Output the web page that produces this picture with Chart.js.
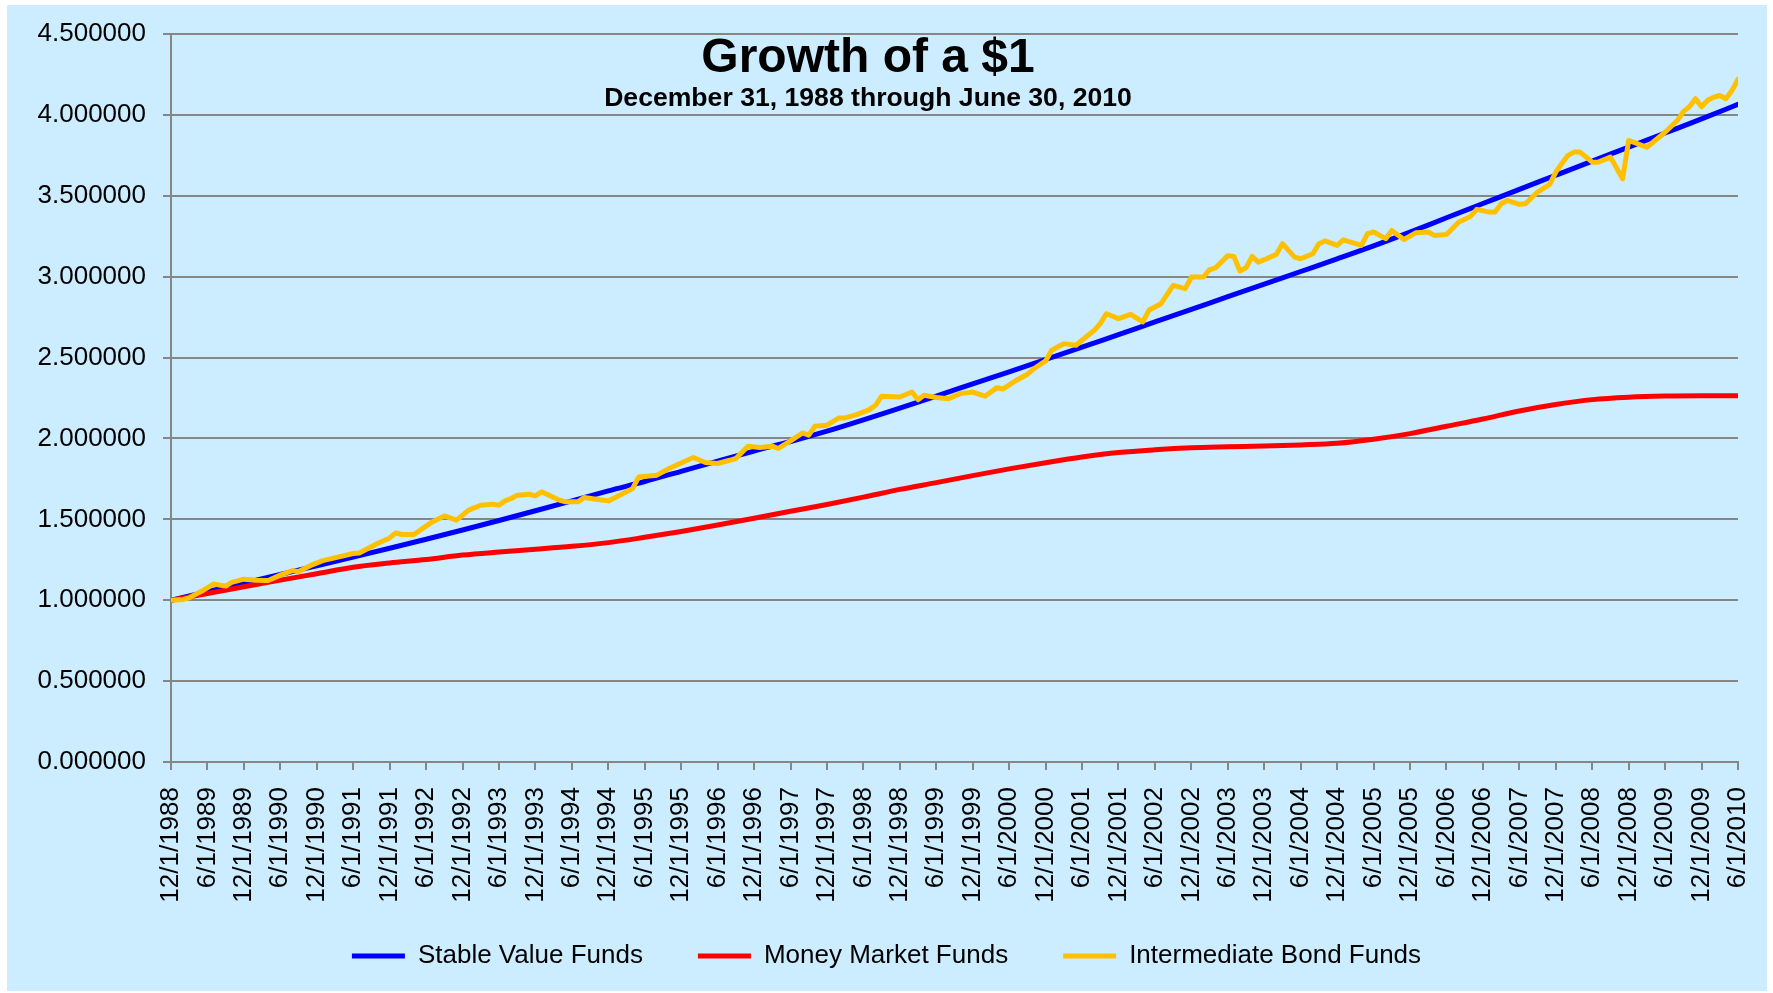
<!DOCTYPE html>
<html>
<head>
<meta charset="utf-8">
<title>Growth of a $1</title>
<script src="https://cdn.jsdelivr.net/npm/chart.js@4.4.1/dist/chart.umd.min.js"></script>
<style>
    html, body { margin: 0; padding: 0; background: #ffffff; }
    #wrap { width: 1773px; height: 993px; }
</style>
</head>
<body>
<div id="wrap"><canvas id="growthChart" width="1773" height="993"></canvas></div>
<script>
// Etiquetas do eixo X (a cada 6 meses)
const tickLabels = [
    '12/1/1988', '6/1/1989', '12/1/1989', '6/1/1990', '12/1/1990', '6/1/1991', '12/1/1991',
    '6/1/1992', '12/1/1992', '6/1/1993', '12/1/1993', '6/1/1994', '12/1/1994', '6/1/1995',
    '12/1/1995', '6/1/1996', '12/1/1996', '6/1/1997', '12/1/1997', '6/1/1998', '12/1/1998',
    '6/1/1999', '12/1/1999', '6/1/2000', '12/1/2000', '6/1/2001', '12/1/2001', '6/1/2002',
    '12/1/2002', '6/1/2003', '12/1/2003', '6/1/2004', '12/1/2004', '6/1/2005', '12/1/2005',
    '6/1/2006', '12/1/2006', '6/1/2007', '12/1/2007', '6/1/2008', '12/1/2008', '6/1/2009',
    '12/1/2009', '6/1/2010'
];

// Valores semestrais (um por etiqueta)
const stableValues = [
    1.000, 1.053, 1.106, 1.159, 1.213, 1.267, 1.321, 1.377, 1.434, 1.493, 1.553,
    1.614, 1.676, 1.734, 1.797, 1.860, 1.922, 1.981, 2.045, 2.115, 2.188, 2.262,
    2.337, 2.412, 2.488, 2.564, 2.642, 2.720, 2.798, 2.876, 2.954, 3.032, 3.110,
    3.190, 3.275, 3.364, 3.452, 3.540, 3.627, 3.714, 3.801, 3.888, 3.975, 4.065
];

const moneyValues = [
    1.000, 1.042, 1.083, 1.124, 1.164, 1.204, 1.230, 1.252, 1.279, 1.298, 1.315,
    1.333, 1.356, 1.389, 1.425, 1.465, 1.507, 1.550, 1.592, 1.637, 1.685, 1.727,
    1.770, 1.812, 1.850, 1.885, 1.913, 1.930, 1.942, 1.948, 1.953, 1.960, 1.970,
    1.995, 2.030, 2.075, 2.120, 2.170, 2.210, 2.240, 2.255, 2.262, 2.264, 2.264
];

// Fundos de renda fixa: mes (desde 12/1988) e valor
const bondMonths = [
    0, 2, 3, 5, 7, 9, 10, 12, 14, 16, 18, 20, 21, 23, 25, 30, 31, 34, 36, 37, 38, 40,
    43, 45, 47, 49, 51, 53, 54, 55, 56, 57, 59, 60, 61, 64, 65, 67, 68, 70, 72, 75,
    76, 77, 80, 82, 86, 88, 90, 92, 93, 95, 97, 99, 100, 102, 104, 105, 106, 108, 110,
    111, 113, 115, 116, 117, 120, 122, 123, 124, 126, 128, 130, 132, 134, 136, 137, 139,
    141, 142, 144, 145, 147, 149, 150, 152, 153, 154, 156, 158, 160, 161, 163, 165, 167,
    168, 170, 171, 172, 174, 175, 176, 177, 178, 179, 180, 182, 183, 185, 186, 188, 189,
    190, 192, 193, 196, 197, 198, 200, 201, 203, 205, 207, 208, 210, 212, 214, 215, 217,
    218, 219, 220, 222, 223, 225, 227, 228, 229, 230, 231, 232, 234, 235, 237, 239, 240,
    243, 244, 246, 248, 249, 250, 251, 252, 253, 254, 255, 256, 257, 258
];

const bondValues = [
    1.000, 1.005, 1.015, 1.055, 1.100, 1.087, 1.110, 1.130, 1.124, 1.122, 1.155, 1.183, 1.178, 1.215, 1.245, 1.289, 1.292, 1.351, 1.385, 1.416, 1.406, 1.406,
    1.484, 1.521, 1.495, 1.557, 1.587, 1.594, 1.587, 1.614, 1.629, 1.649, 1.655, 1.645, 1.670, 1.618, 1.608, 1.608, 1.635, 1.624, 1.614, 1.670,
    1.690, 1.762, 1.773, 1.814, 1.882, 1.851, 1.845, 1.865, 1.876, 1.952, 1.944, 1.952, 1.938, 1.985, 2.034, 2.020, 2.075, 2.082, 2.127,
    2.127, 2.149, 2.178, 2.205, 2.261, 2.256, 2.287, 2.240, 2.267, 2.253, 2.246, 2.277, 2.287, 2.261, 2.314, 2.306, 2.355,
    2.397, 2.429, 2.479, 2.545, 2.586, 2.576, 2.607, 2.668, 2.710, 2.771, 2.741, 2.767, 2.720, 2.792, 2.833, 2.946, 2.926,
    2.998, 2.998, 3.043, 3.055, 3.130, 3.125, 3.035, 3.055, 3.125, 3.090, 3.105, 3.138, 3.204, 3.121, 3.111, 3.142, 3.204,
    3.221, 3.193, 3.228, 3.193, 3.266, 3.276, 3.235, 3.286, 3.230, 3.272, 3.276, 3.255, 3.261, 3.337, 3.374, 3.416, 3.399,
    3.399, 3.451, 3.471, 3.447, 3.451, 3.523, 3.570, 3.646, 3.700, 3.750, 3.770, 3.770, 3.708, 3.708, 3.739, 3.605, 3.842,
    3.800, 3.831, 3.893, 3.965, 4.020, 4.050, 4.100, 4.050, 4.090, 4.110, 4.120, 4.100, 4.150, 4.220
];

const FONT = "'Liberation Sans', Arial, sans-serif";
const GRID = '#868686';

Chart.defaults.font.family = FONT;
Chart.defaults.font.size = 26;
Chart.defaults.color = '#000000';

// Fundo azul claro com margem branca
const backgroundPlugin = {
    id: 'fundo',
    beforeDraw(chart) {
        const ctx = chart.ctx;
        ctx.save();
        ctx.fillStyle = '#ffffff';
        ctx.fillRect(0, 0, chart.width, chart.height);
        ctx.fillStyle = '#CCECFF';
        ctx.fillRect(7, 5, 1760, 986);
        ctx.restore();
    },
    // deixa as datas giradas aparecerem inteiras (o eixo corta no seu proprio box)
    afterLayout(chart) {
        chart.scales.x.bottom = chart.height;
    }
};

// Titulo dentro da area do grafico
const titlePlugin = {
    id: 'titulo',
    afterDraw(chart) {
        const ctx = chart.ctx;
        ctx.save();
        ctx.fillStyle = '#000000';
        ctx.textAlign = 'center';
        ctx.textBaseline = 'alphabetic';
        ctx.font = 'bold 48px ' + FONT;
        ctx.fillText('Growth of a $1', 868, 72);
        ctx.font = 'bold 26.6px ' + FONT;
        ctx.fillText('December 31, 1988 through June 30, 2010', 868, 106);
        ctx.restore();
    }
};

function semiannual(values) {
    return values.map((v, i) => ({ x: i * 6, y: v }));
}

const ctx = document.getElementById('growthChart').getContext('2d');
const growthChart = new Chart(ctx, {
    type: 'line',
    data: {
        datasets: [{
            label: 'Stable Value Funds',
            data: semiannual(stableValues),
            borderColor: '#0000FF',
            backgroundColor: '#0000FF',
            borderWidth: 5,
            pointRadius: 0,
            cubicInterpolationMode: 'monotone',
            borderCapStyle: 'round',
            order: 3
        }, {
            label: 'Money Market Funds',
            data: semiannual(moneyValues),
            borderColor: '#FF0000',
            backgroundColor: '#FF0000',
            borderWidth: 5,
            pointRadius: 0,
            cubicInterpolationMode: 'monotone',
            borderCapStyle: 'round',
            order: 2
        }, {
            label: 'Intermediate Bond Funds',
            data: bondMonths.map((m, i) => ({ x: m, y: bondValues[i] })),
            borderColor: '#FFC000',
            backgroundColor: '#FFC000',
            borderWidth: 5,
            pointRadius: 0,
            tension: 0,
            borderJoinStyle: 'round',
            borderCapStyle: 'round',
            order: 1
        }]
    },
    options: {
        responsive: false,
        animation: false,
        devicePixelRatio: 1,
        layout: {
            padding: { left: 0, right: 0, top: 34, bottom: 14 }
        },
        plugins: {
            tooltip: { enabled: false },
            title: { display: false },
            legend: {
                position: 'bottom',
                labels: {
                    usePointStyle: true,
                    pointStyle: 'line',
                    pointStyleWidth: 53,
                    padding: 55,
                    color: '#000000',
                    font: { size: 26 },
                    sort: (a, b) => a.datasetIndex - b.datasetIndex
                }
            }
        },
        scales: {
            x: {
                type: 'linear',
                min: 0,
                max: 258,
                afterFit(scale) {
                    scale.height = 126;
                    scale.paddingLeft = 0;
                    scale.paddingRight = 0;
                },
                grid: {
                    drawOnChartArea: false,
                    drawTicks: true,
                    tickLength: 8,
                    color: GRID,
                    lineWidth: 2
                },
                border: { color: GRID, width: 2 },
                ticks: {
                    stepSize: 6,
                    autoSkip: false,
                    minRotation: 90,
                    maxRotation: 90,
                    padding: 17,
                    font: { size: 26 },
                    callback: (value) => tickLabels[Math.round(value / 6)]
                }
            },
            y: {
                min: 0,
                max: 4.5,
                afterFit(scale) { scale.width = 171; },
                grid: {
                    color: GRID,
                    lineWidth: 2,
                    tickLength: 8
                },
                border: { color: GRID, width: 2 },
                ticks: {
                    stepSize: 0.5,
                    padding: 17,
                    font: { size: 26 },
                    callback: (value) => value.toFixed(6)
                }
            },
            yRight: {
                type: 'linear',
                position: 'right',
                afterFit(scale) { scale.width = 35; },
                grid: { display: false },
                border: { display: false },
                ticks: { display: false }
            }
        }
    },
    plugins: [backgroundPlugin, titlePlugin]
});
</script>
</body>
</html>
